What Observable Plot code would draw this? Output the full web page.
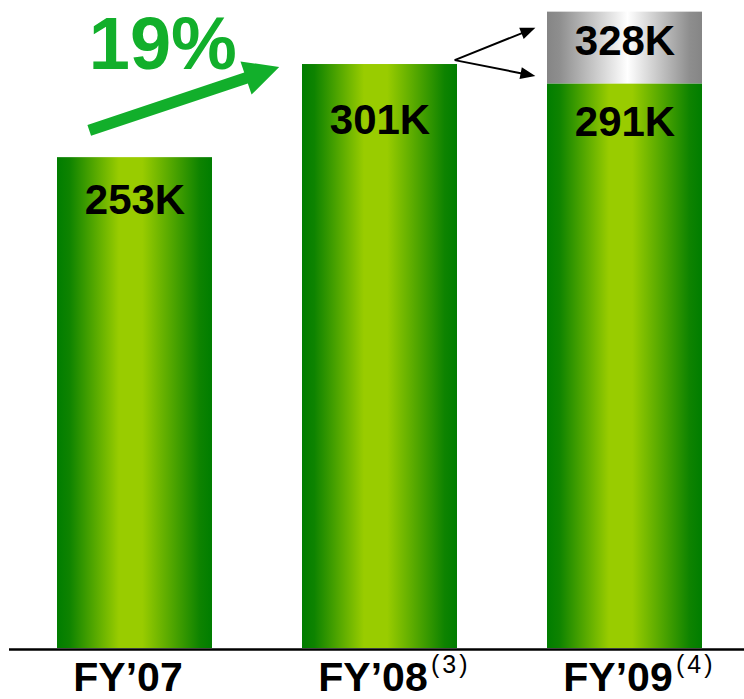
<!DOCTYPE html>
<html><head><meta charset="utf-8">
<script src="https://cdn.jsdelivr.net/npm/d3@7"></script>
<script src="https://cdn.jsdelivr.net/npm/@observablehq/plot@0.6"></script>
<style>html,body{margin:0;padding:0;background:#fff;} svg{display:block;}</style>
</head><body><div id="chart"></div>
<script>
// ---- data ----
const categories = ["FY’07", "FY’08", "FY’09"];
const footnotes = ["", "(3)", "(4)"];
const shipments = [253, 301, 291];
const shipmentLabels = ["253K", "301K", "291K"];
const projectedCategory = "FY’09";
const projectedValue = 328;
const projectedLabel = "328K";
const growthLabel = "19%";
// annotation anchors: [category, offset (in band widths from band start), value]
const growthArrowFrom = ["FY’07", 0.208, 266.8];
const growthArrowTo = ["FY’08", -0.147, 299.5];
const growthLabelAt = ["FY’07", 298.5];
const splitArrowFrom = ["FY’08", 0.985, 303];
const splitArrowTips = [["FY’09", -0.075, 319.7], ["FY’09", -0.075, 294.8]];

const rows = categories.map((c, i) => ({category: c, value: shipments[i], label: shipmentLabels[i], note: footnotes[i]}));
const projected = [{category: projectedCategory, y1: shipments[categories.indexOf(projectedCategory)], y2: projectedValue, label: projectedLabel}];

const FONT = "'Liberation Sans', Arial, Helvetica, sans-serif";

function arrowMark(from, to, {shaft, headLength, headWidth, color}) {
  return (index, scales) => {
    const bw = scales.x.bandwidth ? scales.x.bandwidth() : scales.scales.x.bandwidth;
    const px = ([c, f, v]) => [scales.x(c) + f * bw, scales.y(v)];
    const [x1, y1] = px(from), [x2, y2] = px(to);
    const len = Math.hypot(x2 - x1, y2 - y1);
    const ux = (x2 - x1) / len, uy = (y2 - y1) / len;
    const nx = -uy, ny = ux;
    const bx = x2 - ux * headLength, by = y2 - uy * headLength;
    const w = shaft / 2, h = headWidth / 2;
    const pts = [
      [x1 + nx * w, y1 + ny * w], [bx + nx * w, by + ny * w], [bx + nx * h, by + ny * h],
      [x2, y2], [bx - nx * h, by - ny * h], [bx - nx * w, by - ny * w], [x1 - nx * w, y1 - ny * w]
    ];
    return d3.create("svg:polygon")
      .attr("points", pts.map(p => p.join(",")).join(" "))
      .attr("fill", color).node();
  };
}

const labelDy = {"253K": 56.8, "301K": 69.3, "291K": 51.6};
const valueText = rows.map(r => Plot.text([r], {
  x: "category", y: "value", text: "label", dy: labelDy[r.label], lineAnchor: "bottom",
  fontSize: 42, fontWeight: "bold", fill: "#000", fontFamily: FONT
}));

const chart = Plot.plot({
  width: 744,
  height: 699,
  marginTop: 0,
  marginBottom: 51,
  marginLeft: 9,
  marginRight: 0,
  style: {fontFamily: FONT, background: "#fff"},
  x: {domain: categories, paddingInner: 0.368, paddingOuter: 0.18, align: 0.53, axis: null},
  y: {domain: [0, 334], axis: null},
  marks: [
    Plot.barY(rows, {x: "category", y: "value", fill: "url(#greenGrad)"}),
    Plot.barY(projected, {x: "category", y1: "y1", y2: "y2", fill: "url(#grayGrad)"}),
    Plot.ruleY([0], {stroke: "#000", strokeWidth: 2.5, dy: 1}),
    ...valueText,
    Plot.text(projected, {x: "category", y: "y2", text: "label", dy: 42.7, lineAnchor: "bottom",
      fontSize: 42, fontWeight: "bold", fill: "#000", fontFamily: FONT}),
    Plot.text(rows, {x: "category", y: 0, text: "category", dy: 42, dx: -7, lineAnchor: "bottom",
      fontSize: 41, fontWeight: "bold", fill: "#000", fontFamily: FONT}),
    Plot.text(rows.filter(r => r.note), {x: "category", y: 0, text: "note", dy: 24, dx: 51, lineAnchor: "bottom",
      textAnchor: "start", fontSize: 25, fill: "#000", fontFamily: FONT}),
    Plot.text([growthLabel], {x: () => growthLabelAt[0], y: () => growthLabelAt[1], text: d => d, dx: 27.8,
      lineAnchor: "bottom", fontSize: 74, fontWeight: "bold", fill: "#12AF2B", fontFamily: FONT}),
    arrowMark(growthArrowFrom, growthArrowTo, {shaft: 11.5, headLength: 35, headWidth: 35, color: "#12AF2B"}),
    ...splitArrowTips.map(t => arrowMark(splitArrowFrom, t, {shaft: 2, headLength: 15, headWidth: 12, color: "#000"}))
  ]
});

const svg = d3.select(chart);
const defs = svg.insert("defs", ":first-child");
const green = defs.append("linearGradient").attr("id", "greenGrad").attr("x1", 0).attr("x2", 1).attr("y1", 0).attr("y2", 0);
[[0, "#007d00"], [0.08, "#0e8300"], [0.4, "#99cc00"], [0.55, "#99cc00"], [0.92, "#0e8300"], [1, "#007d00"]]
  .forEach(([o, c]) => green.append("stop").attr("offset", o).attr("stop-color", c));
const gray = defs.append("linearGradient").attr("id", "grayGrad").attr("x1", 0).attr("x2", 1).attr("y1", 0).attr("y2", 0);
[[0, "#858585"], [0.08, "#8e8e8e"], [0.52, "#ffffff"], [0.92, "#8e8e8e"], [1, "#858585"]]
  .forEach(([o, c]) => gray.append("stop").attr("offset", o).attr("stop-color", c));
svg.selectAll("text").filter(function() { return /^\(\d\)$/.test(this.textContent); })
  .attr("letter-spacing", "3px");

document.getElementById("chart").appendChild(chart);
</script>
</body></html>
